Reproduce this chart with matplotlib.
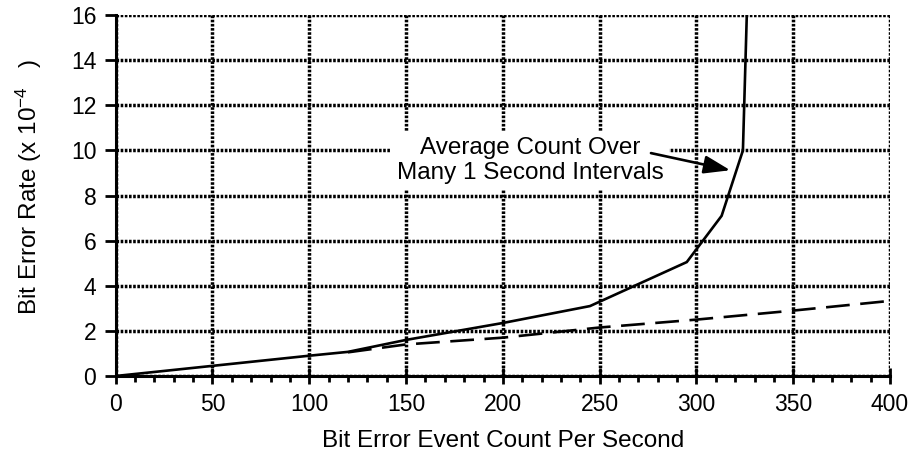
import matplotlib
matplotlib.use("Agg")
import matplotlib.pyplot as plt
from matplotlib.ticker import MultipleLocator

plt.rcParams['font.family'] = ['Liberation Sans', 'DejaVu Sans']
plt.rcParams['mathtext.fontset'] = 'custom'
plt.rcParams['mathtext.rm'] = 'Liberation Sans'
plt.rcParams['mathtext.it'] = 'Liberation Sans'

# instantaneous vs. averaged error-rate curves
avg_x = [0, 50, 100, 120, 150, 200, 245, 295, 313, 324, 326]
avg_y = [0, 0.45, 0.9, 1.07, 1.6, 2.35, 3.1, 5.05, 7.1, 10.0, 16.0]

inst_x = [120, 150, 200, 250, 300, 350, 400]
inst_y = [1.05, 1.4, 1.7, 2.15, 2.5, 2.9, 3.33]

x_ticks = [0, 50, 100, 150, 200, 250, 300, 350, 400]
y_ticks = [0, 2, 4, 6, 8, 10, 12, 14, 16]

note_text = "Average Count Over\nMany 1 Second Intervals"

fig = plt.figure(figsize=(9.11, 4.55), dpi=100)
ax = fig.add_axes([0.127, 0.1736, 0.85, 0.7934])

ax.set_xlim(0, 400)
ax.set_ylim(0, 16)
ax.set_xticks(x_ticks)
ax.set_yticks(y_ticks)
ax.xaxis.set_minor_locator(MultipleLocator(10))

# dotted grid, which also forms the top and right border
ax.grid(True, which='major', color='black', linestyle=(0, (0.75, 0.45)), linewidth=2.5, zorder=1)
for s in ['top', 'right']:
    ax.spines[s].set_visible(False)
for s in ['left', 'bottom']:
    ax.spines[s].set_linewidth(2.2)
    ax.spines[s].set_zorder(4)

ax.tick_params(axis='x', which='major', direction='inout', length=12, width=2, labelsize=16.5, pad=6)
ax.tick_params(axis='x', which='minor', direction='out', length=4, width=2)
ax.tick_params(axis='y', which='major', direction='out', length=8, width=2, labelsize=16.5, pad=6)

ax.plot(avg_x, avg_y, color='black', linewidth=1.9, zorder=3, solid_joinstyle='miter')
ax.plot(inst_x, inst_y, color='black', linewidth=1.9, linestyle=(0, (9, 4)), zorder=3)

ax.text(214, 9.55, note_text, ha='center', va='center', fontsize=17.5, linespacing=1.2,
        bbox=dict(boxstyle='square,pad=0.25', facecolor='white', edgecolor='none'),
        zorder=5)
ax.annotate('', xy=(317.5, 9.12), xytext=(276.5, 9.88),
            arrowprops=dict(arrowstyle='-|>,head_length=1.6,head_width=0.55',
                            color='black', linewidth=1.9,
                            shrinkA=0, shrinkB=0),
            zorder=6)

ax.set_xlabel("Bit Error Event Count Per Second", fontsize=17.5, labelpad=10)
ax.set_ylabel(r"Bit Error Rate (x 10$^{-4}$   )", fontsize=17.5)
ax.yaxis.set_label_coords(-0.093, 0.523)

fig.savefig("out.png", dpi=100)
